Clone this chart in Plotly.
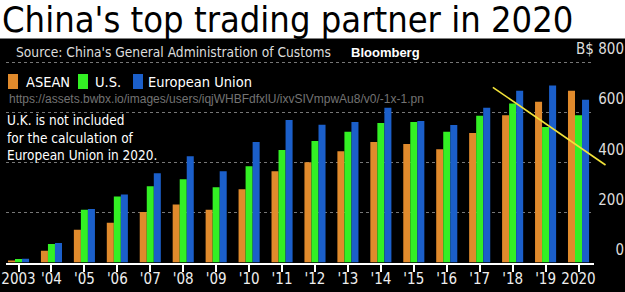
import plotly.graph_objects as go

years = ["2003", "'04", "'05", "'06", "'07", "'08", "'09", "'10", "'11", "'12",
         "'13", "'14", "'15", "'16", "'17", "'18", "'19", "2020"]
asean = [6, 47, 131, 159, 202, 231, 210, 292, 364, 400, 444, 481, 473, 452, 517, 588, 641, 685]
us = [14, 74, 210, 263, 304, 332, 300, 384, 449, 485, 522, 557, 561, 522, 586, 634, 541, 588]
eu = [15, 78, 213, 271, 356, 424, 364, 481, 569, 550, 561, 617, 565, 549, 617, 685, 706, 649]

series_names = ["ASEAN", "U.S.", "European Union"]
series_colors = ["#E08A2C", "#33F024", "#1B5FCA"]

y_tickvals = [0, 200, 400, 600, 800]
y_ticktext = ["0", "200", "400", "600", "B$ 800"]

# trend line (category index position, value)
trend_pos = [14.40, 17.82]
trend_val = [699, 389]

title_text = "China's top trading partner in 2020"
source_text = "Source: China's General Administration of Customs"
brand_text = "Bloomberg"
url_text = "https://assets.bwbx.io/images/users/iqjWHBFdfxlU/ixvSIVmpwAu8/v0/-1x-1.pn"
note_text = "U.K. is not included<br>for the calculation of<br>European Union in 2020."

W, H = 625, 292
COND = "DejaVu Sans Condensed, DejaVu Sans, sans-serif"

x_dom = [6 / W, 594 / W]
y_dom = [(H - 262.5) / H, (H - 59.5) / H]
x_rng = [-0.38, 17.47]
y_rng = [0, 810]

fig = go.Figure()
for name, vals, col in zip(series_names, [asean, us, eu], series_colors):
    fig.add_trace(go.Bar(x=years, y=vals, name=name, showlegend=False,
                         marker=dict(color=col, line=dict(width=0))))


def px_x(p):
    return x_dom[0] + (p - x_rng[0]) / (x_rng[1] - x_rng[0]) * (x_dom[1] - x_dom[0])


def px_y(v):
    return y_dom[0] + (v - y_rng[0]) / (y_rng[1] - y_rng[0]) * (y_dom[1] - y_dom[0])


shapes = [
    dict(type="rect", xref="paper", yref="paper", x0=0, x1=1, y0=(H - 38.5) / H, y1=1,
         fillcolor="white", line=dict(width=0), layer="below"),
    dict(type="line", xref="paper", yref="paper",
         x0=px_x(trend_pos[0]), y0=px_y(trend_val[0]),
         x1=px_x(trend_pos[1]), y1=px_y(trend_val[1]),
         line=dict(color="#F2E33A", width=1.6)),
]

annotations = [
    dict(text=source_text, xref="paper", yref="paper", x=14 / W, y=1 - 52 / H,
         xanchor="left", yanchor="middle", showarrow=False,
         font=dict(family=COND, size=13.7, color="#DDDDDD")),
    dict(text="<b>" + brand_text + "</b>", xref="paper", yref="paper", x=349 / W, y=1 - 52 / H,
         xanchor="left", yanchor="middle", showarrow=False,
         font=dict(family="Liberation Sans, Arial, sans-serif", size=13, color="white")),
    dict(text=url_text, xref="paper", yref="paper", x=7 / W, y=1 - 99 / H,
         xanchor="left", yanchor="middle", showarrow=False,
         font=dict(family="Liberation Sans, Arial, sans-serif", size=12, color="#737373")),
    dict(text=note_text, xref="paper", yref="paper", x=5 / W, y=1 - 110 / H,
         xanchor="left", yanchor="top", showarrow=False, align="left",
         font=dict(family=COND, size=13.5, color="white")),
]

# legend keys (swatch + label) laid out like the original
legend_swatch_x = [8, 78, 133]
legend_text_x = [24, 93, 146]
for name, col, sx, tx in zip(series_names, series_colors, legend_swatch_x, legend_text_x):
    shapes.append(dict(type="rect", xref="paper", yref="paper",
                       x0=sx / W, x1=(sx + 10) / W, y0=1 - 89 / H, y1=1 - 74 / H,
                       fillcolor=col, line=dict(width=0)))
    annotations.append(dict(text=name, xref="paper", yref="paper", x=tx / W, y=1 - 81.5 / H,
                            xanchor="left", yanchor="middle", showarrow=False,
                            font=dict(family=COND, size=14.5, color="white")))

fig.update_layout(
    width=W, height=H,
    margin=dict(l=0, r=0, t=0, b=0, autoexpand=False),
    paper_bgcolor="black", plot_bgcolor="black",
    barmode="group", bargap=0.36, bargroupgap=0,
    showlegend=False,
    title=dict(text=title_text, x=2 / W, xanchor="left", y=1 - 19 / H, yanchor="middle",
               xref="paper", yref="paper",
               font=dict(family=COND, size=36, color="black")),
    xaxis=dict(type="category", domain=x_dom, range=x_rng, showgrid=False, zeroline=False,
               showline=True, linecolor="white", linewidth=2,
               ticks="outside", ticklen=7, tickwidth=1.5, tickcolor="white",
               ticklabelstandoff=-6,
               tickfont=dict(family=COND, size=15, color="#EEEEEE"), fixedrange=True),
    yaxis=dict(domain=y_dom, range=y_rng, anchor="free", position=1.0, side="left",
               tickvals=y_tickvals, ticktext=y_ticktext, ticks="", showline=False,
               zeroline=False, showgrid=True, gridcolor="#777777", griddash="dot", gridwidth=1,
               ticklabelshift=-13, ticklabelstandoff=1,
               tickfont=dict(family=COND, size=15, color="#DDDDDD"), fixedrange=True),
    shapes=shapes,
    annotations=annotations,
)

fig.write_html("out.html")
